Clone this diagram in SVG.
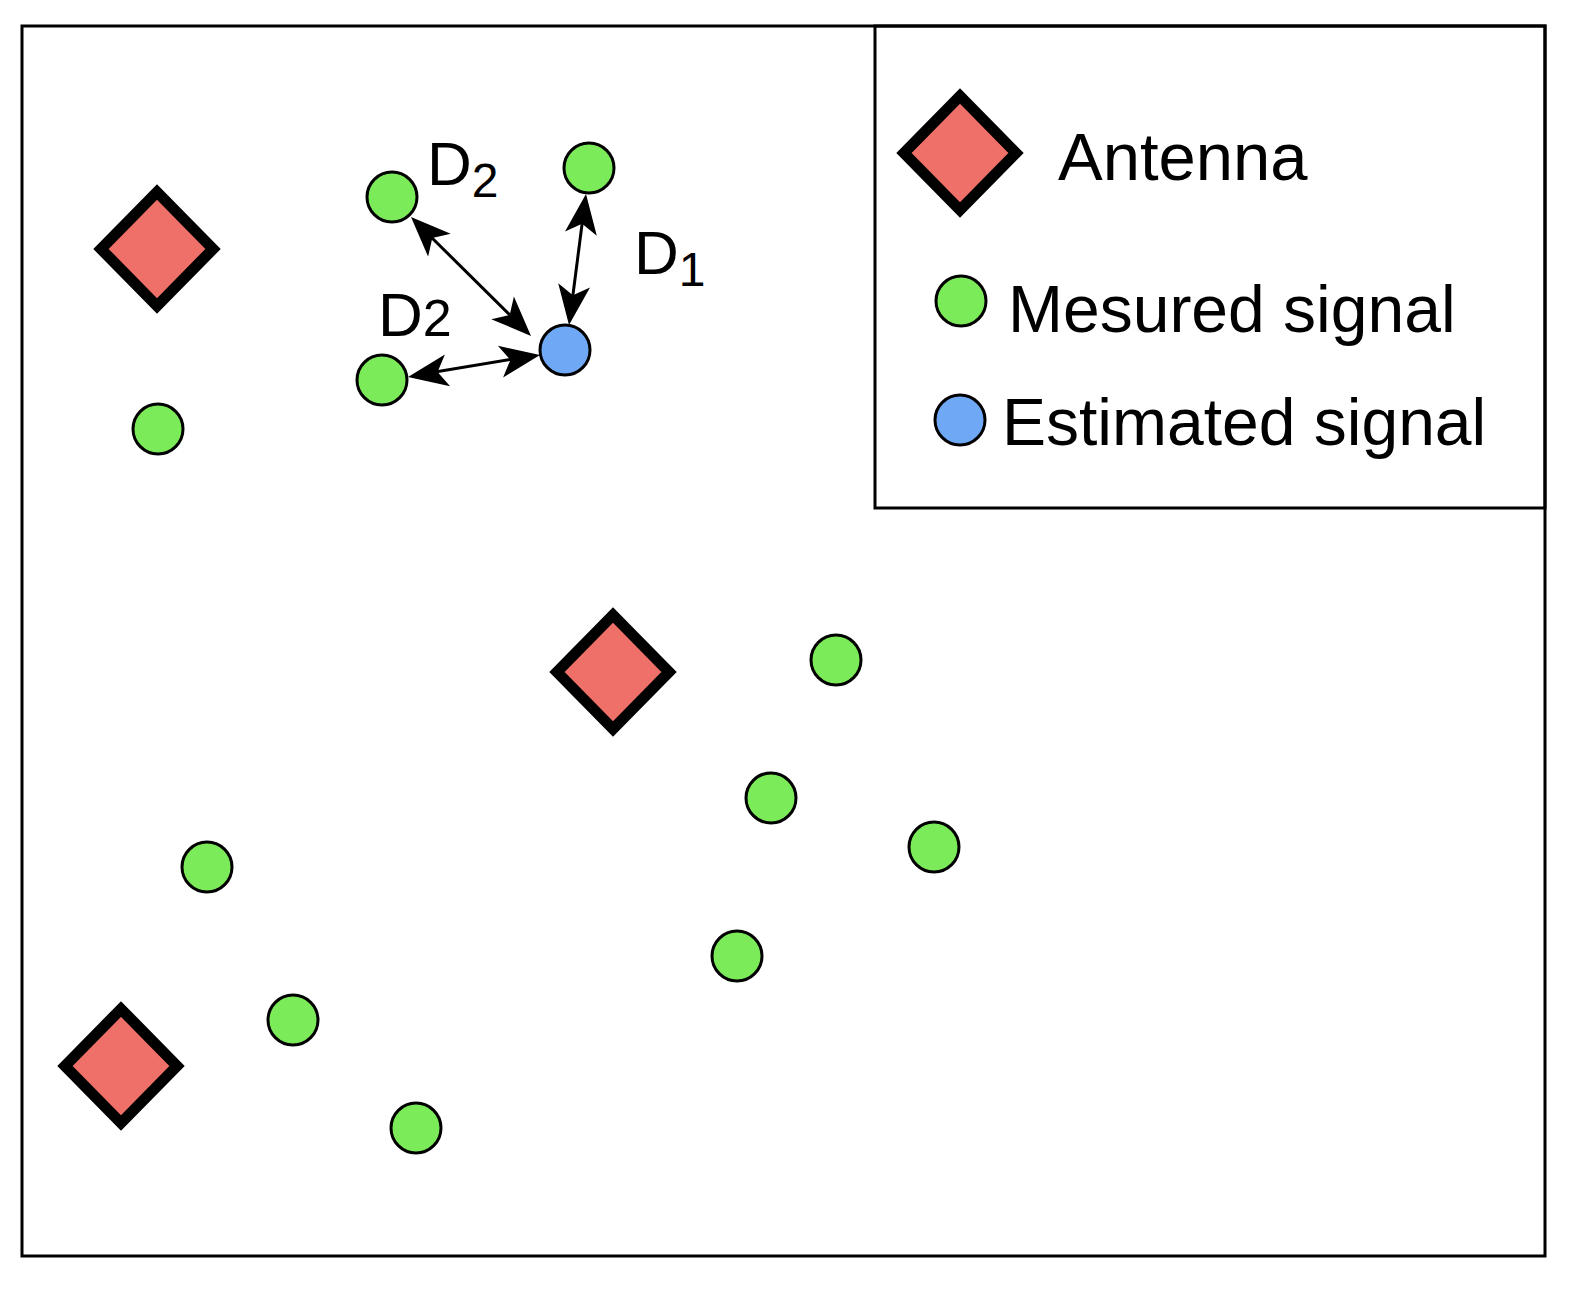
<svg xmlns="http://www.w3.org/2000/svg" width="1592" height="1300" viewBox="0 0 1592 1300">
<style>
.g{fill:#7ceb5a;stroke:#000;stroke-width:3}
.b{fill:#6fa8f5;stroke:#000;stroke-width:3}
.a{fill:#ee7068;stroke:#000;stroke-width:11;stroke-linejoin:miter}
.t{font-family:"Liberation Sans",Arial,sans-serif;fill:#000}
.c{stroke:#000;stroke-width:3;fill:none}
.h{fill:#000;stroke:none}
</style>
<rect width="1592" height="1300" fill="#fff"/>
<rect x="22" y="26" width="1523" height="1230" fill="none" stroke="#000" stroke-width="3"/>
<g id="legend">
<rect x="875" y="26" width="670" height="482" fill="none" stroke="#000" stroke-width="3"/>
<path class="a" d="M960,96 L1016,153 L960,210 L904,153 Z"/>
<text class="t" x="1058" y="180" font-size="67">Antenna</text>
<circle class="g" cx="961" cy="301" r="25"/>
<text class="t" x="1008" y="332" font-size="66">Mesured signal</text>
<circle class="b" cx="960" cy="420" r="25"/>
<text class="t" x="1002" y="445" font-size="66">Estimated signal</text>
</g>
<g id="antennas">
<path class="a" d="M157,192 L213,249 L157,306 L101,249 Z"/>
<path class="a" d="M613,615 L669,672 L613,729 L557,672 Z"/>
<path class="a" d="M121,1009 L177,1066 L121,1123 L65,1066 Z"/>
</g>
<g id="connectors">
<line class="c" x1="425" y1="231" x2="517" y2="322"/>
<path class="h" d="M531,336 L491.3,319.2 L509.7,314.9 L513.9,296.4 Z"/>
<path class="h" d="M411,217 L428.1,256.6 L432.3,238.1 L450.7,233.8 Z"/>
<line class="c" x1="584" y1="209" x2="571" y2="310"/>
<path class="h" d="M569,325 L558.2,283.2 L572.9,295.2 L590,287.4 Z"/>
<path class="h" d="M586,194 L565,231.6 L582.1,223.8 L596.8,235.8 Z"/>
<line class="c" x1="423" y1="374" x2="525" y2="357"/>
<path class="h" d="M540,355 L503.1,377.4 L510.4,359.9 L497.9,345.8 Z"/>
<path class="h" d="M408,377 L450.1,386.2 L437.6,372.1 L444.9,354.6 Z"/>
</g>
<g id="signals">
<circle class="g" cx="392" cy="197" r="25"/>
<circle class="g" cx="589" cy="168" r="25"/>
<circle class="g" cx="382" cy="380" r="25"/>
<circle class="g" cx="158" cy="429" r="25"/>
<circle class="b" cx="565" cy="350" r="25"/>
<circle class="g" cx="836" cy="660" r="25"/>
<circle class="g" cx="771" cy="798" r="25"/>
<circle class="g" cx="934" cy="847" r="25"/>
<circle class="g" cx="737" cy="956" r="25"/>
<circle class="g" cx="207" cy="867" r="25"/>
<circle class="g" cx="293" cy="1020" r="25"/>
<circle class="g" cx="416" cy="1128" r="25"/>
</g>
<g id="labels">
<text class="t" x="427" y="185" font-size="62">D<tspan font-size="48" dy="12">2</tspan></text>
<text class="t" x="634" y="274" font-size="62">D<tspan font-size="48" dy="12">1</tspan></text>
<text class="t" x="378" y="336" font-size="62">D<tspan font-size="52">2</tspan></text>
</g>
</svg>
